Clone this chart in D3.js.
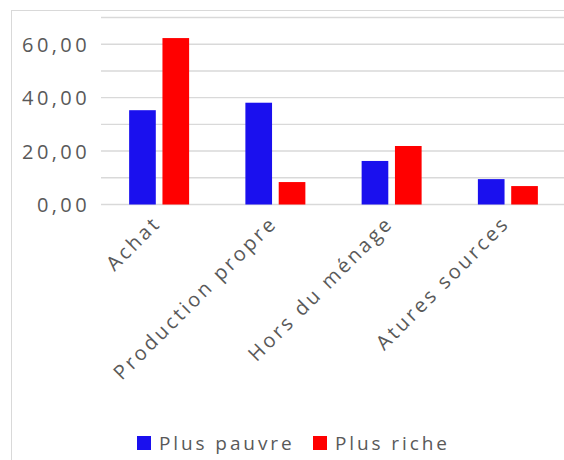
<!DOCTYPE html>
<html>
<head>
<meta charset="utf-8">
<script src="https://cdn.jsdelivr.net/npm/d3@7"></script>
<style>
  body { margin: 0; background: #fff; }
  svg { display: block; }
  text { font-family: "Open Sans", sans-serif; fill: #595959; }
</style>
</head>
<body>
<svg id="chart" width="564" height="460"></svg>
<script>
const categories = ['Achat', 'Production propre', 'Hors du ménage', 'Atures sources'];
const seriesNames = ['Plus pauvre', 'Plus riche'];
const plusPauvre = [35.3, 38.1, 16.3, 9.5];
const plusRiche = [62.3, 8.4, 21.9, 6.9];
const yTicks = [0, 10, 20, 30, 40, 50, 60, 70];
const yLabelTicks = [0, 20, 40, 60];
const colors = ['#1a10ee', '#ff0000'];

const width = 564, height = 460;
const margin = { left: 101, right: -2, top: 17.5, bottom: 255.5 };

const svg = d3.select('#chart');

// outer frame (cut off on right/bottom like the source)
svg.append('rect')
  .attr('x', 11.5).attr('y', 10.5)
  .attr('width', 600).attr('height', 500)
  .attr('fill', 'none').attr('stroke', '#d9d9d9').attr('stroke-width', 1);

const y = d3.scaleLinear().domain([0, 70]).range([height - margin.bottom, margin.top]);
const x0 = d3.scaleBand().domain(categories)
  .range([margin.left, width - margin.right])
  .paddingInner(0.484).paddingOuter(0.242);
const x1 = d3.scaleBand().domain(seriesNames)
  .range([0, x0.bandwidth()]).paddingInner(0.2);

// gridlines
svg.append('g')
  .selectAll('line').data(yTicks).join('line')
  .attr('x1', margin.left).attr('x2', width)
  .attr('y1', d => y(d)).attr('y2', d => y(d))
  .attr('stroke', '#d9d9d9').attr('stroke-width', 1.4);

// y labels
const yAxis = d3.axisLeft(y).tickValues(yLabelTicks)
  .tickFormat(d => d3.format('.2f')(d).replace('.', ','))
  .tickSize(0).tickPadding(11);
const gy = svg.append('g').attr('transform', `translate(${margin.left},0)`).call(yAxis);
gy.select('.domain').remove();
gy.selectAll('text')
  .attr('font-size', 20).attr('letter-spacing', 3.4)
  .attr('font-family', '"Open Sans", sans-serif').attr('fill', '#595959')
  .attr('dy', '0.36em');

// bars
const rows = categories.map((c, i) => ({ cat: c, vals: [plusPauvre[i], plusRiche[i]] }));
svg.append('g').selectAll('g').data(rows).join('g')
  .attr('transform', d => `translate(${x0(d.cat)},0)`)
  .selectAll('rect').data(d => d.vals.map((v, j) => ({ s: seriesNames[j], v, j })))
  .join('rect')
  .attr('x', d => x1(d.s))
  .attr('width', x1.bandwidth())
  .attr('y', d => y(d.v))
  .attr('height', d => y(0) - y(d.v))
  .attr('fill', d => colors[d.j]);

// category labels
svg.append('g').selectAll('text').data(categories).join('text')
  .attr('transform', d => `translate(${x0(d) + x0.bandwidth() / 2 + 3},${y(0) + 20}) rotate(-45)`)
  .attr('text-anchor', 'end')
  .attr('font-size', 20).attr('letter-spacing', 2.9)
  .text(d => d);

// legend
const legend = svg.append('g');
const legendX = [137, 313];
seriesNames.forEach((s, i) => {
  legend.append('rect')
    .attr('x', legendX[i]).attr('y', 436).attr('width', 14).attr('height', 14)
    .attr('fill', colors[i]);
  legend.append('text')
    .attr('x', legendX[i] + 22).attr('y', 450)
    .attr('font-size', 19).attr('letter-spacing', 2.9)
    .text(s);
});
</script>
</body>
</html>
